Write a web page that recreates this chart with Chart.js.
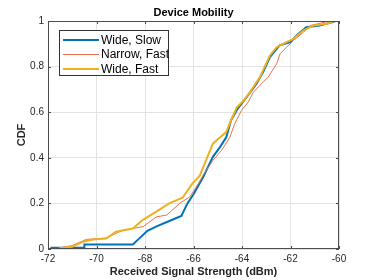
<!DOCTYPE html>
<html>
<head>
<meta charset="utf-8">
<script src="https://cdn.jsdelivr.net/npm/chart.js@4"></script>
<style>
    html, body { margin: 0; padding: 0; background: #fff; }
    #wrap { width: 374px; height: 280px; }
</style>
</head>
<body>
<div id="wrap"><canvas id="cdfChart" width="374" height="280"></canvas></div>
<script>
// values (x = signal strength in dBm, y = CDF)
const wideSlowX = [-71.9, -70.5, -70.5, -68.5, -68.3, -67.9, -67.5, -66.9, -66.5, -66.25, -66.0, -65.6, -65.2, -64.9, -64.65, -64.45, -64.2, -63.8, -63.4, -63.1, -62.85, -62.45, -62.0, -61.75, -61.35, -60.8, -60.25, -60.15];
const wideSlowY = [0.005, 0.005, 0.02, 0.02, 0.04, 0.08, 0.1, 0.127, 0.145, 0.2, 0.24, 0.316, 0.404, 0.448, 0.49, 0.565, 0.612, 0.667, 0.725, 0.783, 0.842, 0.893, 0.907, 0.937, 0.973, 0.98, 0.995, 1.0];

const narrowFastX = [-71.6, -71.0, -70.42, -69.6, -68.9, -68.08, -67.53, -67.1, -66.57, -66.15, -65.8, -65.6, -65.19, -64.84, -64.5, -64.3, -64.02, -63.74, -63.53, -63.26, -62.92, -62.57, -62.43, -62.16, -61.88, -61.47, -61.19, -60.78, -60.37];
const narrowFastY = [0.004, 0.015, 0.042, 0.048, 0.083, 0.098, 0.141, 0.149, 0.2, 0.229, 0.287, 0.324, 0.39, 0.433, 0.49, 0.55, 0.608, 0.645, 0.688, 0.718, 0.754, 0.813, 0.856, 0.885, 0.915, 0.95, 0.98, 0.99, 1.0];

const wideFastX = [-71.5, -71.0, -70.55, -70.15, -69.6, -69.2, -68.5, -68.1, -67.55, -67.0, -66.45, -66.05, -65.75, -65.4, -65.2, -64.9, -64.65, -64.45, -64.22, -63.9, -63.67, -63.26, -62.85, -62.57, -62.16, -61.88, -61.47, -61.06, -60.5, -60.2];
const wideFastY = [0.004, 0.01, 0.032, 0.042, 0.046, 0.076, 0.09, 0.127, 0.163, 0.2, 0.225, 0.287, 0.32, 0.411, 0.462, 0.49, 0.513, 0.565, 0.62, 0.655, 0.688, 0.754, 0.849, 0.885, 0.907, 0.922, 0.958, 0.98, 0.988, 1.0];

const seriesLabels = ['Wide, Slow', 'Narrow, Fast', 'Wide, Fast'];
const seriesColors = ['#0072BD', '#E8724A', '#EDB120'];
const seriesWidths = [2, 1, 2];

const xTicks = [-72, -70, -68, -66, -64, -62, -60];
const yTicks = [0, 0.2, 0.4, 0.6, 0.8, 1];

const chartTitle = 'Device Mobility';
const xTitle = 'Received Signal Strength (dBm)';
const yTitle = 'CDF';

const FONT = "'Liberation Sans', Arial, Helvetica, sans-serif";

function toPoints(xs, ys) {
    return xs.map((x, i) => ({ x: x, y: ys[i] }));
}

const allSeries = [
    toPoints(wideSlowX, wideSlowY),
    toPoints(narrowFastX, narrowFastY),
    toPoints(wideFastX, wideFastY)
];

// box, inward ticks, titles and the boxed legend, drawn MATLAB-style
const matlabDecor = {
    id: 'matlabDecor',
    afterDraw(chart) {
        const ctx = chart.ctx;
        const area = chart.chartArea;
        const xs = chart.scales.x;
        const ys = chart.scales.y;
        ctx.save();

        ctx.strokeStyle = '#4d4d4d';
        ctx.lineWidth = 1;
        ctx.strokeRect(area.left + 0.5, area.top + 0.5, area.right - area.left - 1, area.bottom - area.top - 1);

        ctx.beginPath();
        xTicks.forEach(v => {
            const px = Math.round(xs.getPixelForValue(v)) + 0.5;
            ctx.moveTo(px, area.bottom);
            ctx.lineTo(px, area.bottom - 3);
            ctx.moveTo(px, area.top);
            ctx.lineTo(px, area.top + 3);
        });
        yTicks.forEach(v => {
            const py = Math.round(ys.getPixelForValue(v)) + 0.5;
            ctx.moveTo(area.left, py);
            ctx.lineTo(area.left + 3, py);
            ctx.moveTo(area.right, py);
            ctx.lineTo(area.right - 3, py);
        });
        ctx.stroke();

        const cx = (area.left + area.right) / 2;
        ctx.fillStyle = '#000';
        ctx.textAlign = 'center';
        ctx.textBaseline = 'middle';
        ctx.font = 'bold 11px ' + FONT;
        ctx.fillText(chartTitle, cx, 13);
        ctx.fillStyle = '#262626';
        ctx.fillText(xTitle, cx, 272);
        ctx.save();
        ctx.translate(22, (area.top + area.bottom) / 2);
        ctx.rotate(-Math.PI / 2);
        ctx.fillText(yTitle, 0, 0);
        ctx.restore();

        // legend
        const lx = 59.5, ly = 30.5, lw = 109, lh = 45;
        ctx.fillStyle = '#fff';
        ctx.fillRect(lx, ly, lw, lh);
        ctx.strokeStyle = '#333';
        ctx.lineWidth = 1;
        ctx.strokeRect(lx, ly, lw, lh);
        ctx.font = '12px ' + FONT;
        ctx.textAlign = 'left';
        seriesLabels.forEach((label, i) => {
            const ry = 40 + i * 14.5;
            ctx.strokeStyle = seriesColors[i];
            ctx.lineWidth = seriesWidths[i];
            ctx.beginPath();
            ctx.moveTo(63, ry);
            ctx.lineTo(99, ry);
            ctx.stroke();
            ctx.fillStyle = '#000';
            ctx.fillText(label, 101, ry + 0.5);
        });

        ctx.restore();
    }
};

const canvas = document.getElementById('cdfChart');
new Chart(canvas.getContext('2d'), {
    type: 'line',
    data: {
        datasets: allSeries.map((pts, i) => ({
            label: seriesLabels[i],
            data: pts,
            borderColor: seriesColors[i],
            backgroundColor: seriesColors[i],
            borderWidth: seriesWidths[i],
            pointRadius: 0,
            tension: 0,
            fill: false,
            order: 2 - i
        }))
    },
    options: {
        responsive: false,
        animation: false,
        devicePixelRatio: 1,
        layout: { padding: { left: 0, right: 35, top: 21, bottom: 0 } },
        plugins: {
            legend: { display: false },
            title: { display: false },
            tooltip: { enabled: false }
        },
        scales: {
            x: {
                type: 'linear',
                min: -72,
                max: -60,
                afterBuildTicks: axis => { axis.ticks = xTicks.map(v => ({ value: v })); },
                afterFit: axis => { axis.height = 31; },
                ticks: {
                    font: { family: FONT, size: 10 },
                    color: '#262626',
                    padding: 4,
                    maxRotation: 0
                },
                grid: { color: '#e3e3e3', drawTicks: false },
                border: { display: false }
            },
            y: {
                type: 'linear',
                min: 0,
                max: 1,
                afterBuildTicks: axis => { axis.ticks = yTicks.map(v => ({ value: v })); },
                afterFit: axis => { axis.width = 48; },
                ticks: {
                    font: { family: FONT, size: 10 },
                    color: '#262626',
                    padding: 4,
                    callback: v => String(Math.round(v * 10) / 10)
                },
                grid: { color: '#e3e3e3', drawTicks: false },
                border: { display: false }
            }
        }
    },
    plugins: [matlabDecor]
});
</script>
</body>
</html>
